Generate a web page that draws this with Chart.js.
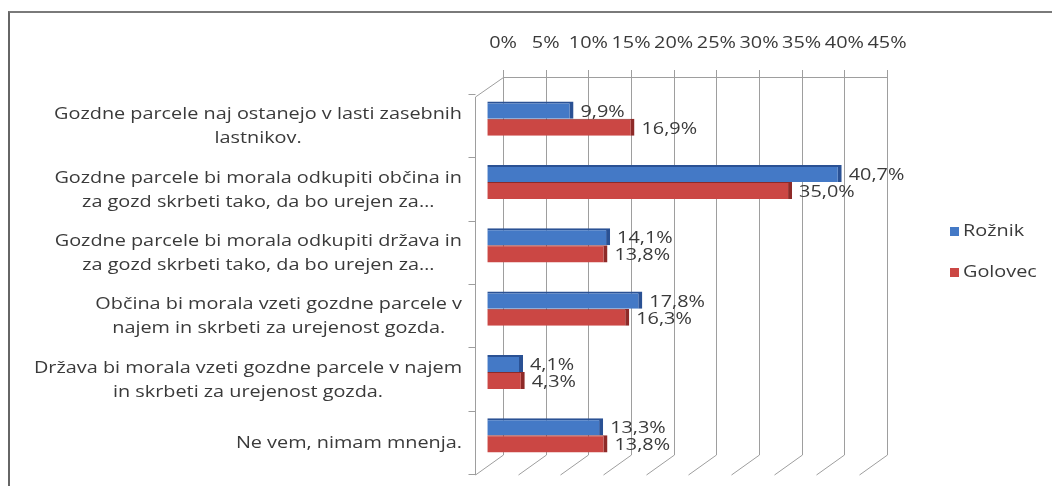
<!DOCTYPE html>
<html>
<head>
<meta charset="utf-8">
<script src="https://cdn.jsdelivr.net/npm/chart.js@4.4.0/dist/chart.umd.min.js"></script>
<style>
body{margin:0;background:#fff;}
#wrap{position:relative;width:1052px;height:486px;overflow:hidden;background:#fff;}
#frame{position:absolute;left:8px;top:11px;width:1100px;height:600px;border-top:2px solid #7a7a7a;border-left:2px solid #666;pointer-events:none;}
</style>
</head>
<body>
<div id="wrap"><canvas id="graf" width="1052" height="486"></canvas><div id="frame"></div></div>
<script>
// odgovori (vsaka vrstica je svoja vrstica oznake)
var kategorije = [
	['Gozdne parcele naj ostanejo v lasti zasebnih', 'lastnikov.'],
	['Gozdne parcele bi morala odkupiti občina in', 'za gozd skrbeti tako, da bo urejen za…'],
	['Gozdne parcele bi morala odkupiti država in', 'za gozd skrbeti tako, da bo urejen za…'],
	['Občina bi morala vzeti gozdne parcele v', 'najem in skrbeti za urejenost gozda.'],
	['Država bi morala vzeti gozdne parcele v najem', 'in skrbeti za urejenost gozda.'],
	['Ne vem, nimam mnenja.']
];
var roznik = [9.9, 40.7, 14.1, 17.8, 4.1, 13.3];
var golovec = [16.9, 35.0, 13.8, 16.3, 4.3, 13.8];
var oznakeX = ['0%', '5%', '10%', '15%', '20%', '25%', '30%', '35%', '40%', '45%'];

var pisava = '16px "Open Sans"';
var barvaTeksta = '#3a3a3a';
var razteg = 1.24; // besedilo v originalu je sirse

function odstotek(v) {
	return v.toFixed(1).replace('.', ',') + '%';
}

function napisi(ctx, t, x, y) {
	ctx.save();
	ctx.translate(x, y);
	ctx.scale(razteg, 1);
	ctx.fillText(t, 0, 0);
	ctx.restore();
}

// 3D okvir: zadnja stena z mrezo, tla in leva stena
var okvir = {
	id: 'okvir',
	beforeDatasetsDraw: function(chart) {
		var ctx = chart.ctx;
		var x = chart.scales.x;
		var y = chart.scales.y;
		var vrh = 77, dno = 455, dx = -28, dy = 20;
		ctx.save();
		ctx.strokeStyle = '#9e9e9e';
		ctx.lineWidth = 1;
		for (var v = 0; v <= 45; v += 5) {
			var px = Math.round(x.getPixelForValue(v)) + 0.5;
			ctx.beginPath();
			ctx.moveTo(px, vrh - 7);
			ctx.lineTo(px, dno);
			ctx.lineTo(px + dx, dno + dy);
			ctx.stroke();
		}
		var x0 = Math.round(x.getPixelForValue(0)) + 0.5;
		var x45 = Math.round(x.getPixelForValue(45)) + 0.5;
		ctx.beginPath();
		ctx.moveTo(x45, vrh + 0.5);
		ctx.lineTo(x0, vrh + 0.5);
		ctx.lineTo(x0 + dx, vrh + dy);
		ctx.lineTo(x0 + dx, dno + dy);
		ctx.stroke();
		// oznake kategorij na levi
		var n = chart.data.labels.length;
		for (var i = 0; i <= n; i++) {
			var yb = y.top + i * (y.height / n) + 7;
			yb = Math.round(yb) + 0.5;
			ctx.beginPath();
			ctx.moveTo(x0 + dx - 7, yb);
			ctx.lineTo(x0 + dx, yb);
			ctx.stroke();
		}
		// oznake osi x
		ctx.font = pisava;
		ctx.fillStyle = barvaTeksta;
		ctx.textAlign = 'center';
		ctx.textBaseline = 'middle';
		x.ticks.forEach(function(t, i) {
			napisi(ctx, oznakeX[i], x.getPixelForValue(t.value), chart.chartArea.top - 44);
		});
		ctx.restore();
	},
	afterDatasetsDraw: function(chart) {
		var ctx = chart.ctx;
		ctx.save();
		ctx.font = pisava;
		ctx.fillStyle = barvaTeksta;
		ctx.textAlign = 'left';
		ctx.textBaseline = 'middle';
		chart.data.datasets.forEach(function(ds, di) {
			var meta = chart.getDatasetMeta(di);
			meta.data.forEach(function(bar, i) {
				napisi(ctx, odstotek(ds.data[i]), bar.x + 7, bar.y + 2);
			});
		});
		ctx.restore();
	},
	afterDraw: function(chart) {
		var ctx = chart.ctx;
		var y = chart.scales.y;
		ctx.save();
		ctx.font = pisava;
		ctx.fillStyle = barvaTeksta;
		ctx.textAlign = 'center';
		ctx.textBaseline = 'middle';
		// oznake kategorij: blok poravnan desno, vrstice na sredini
		chart.data.labels.forEach(function(lab, i) {
			var vrstice = [].concat(lab);
			var sirina = 0;
			vrstice.forEach(function(t) { sirina = Math.max(sirina, ctx.measureText(t).width * razteg); });
			var cx = 462 - sirina / 2;
			var yc = y.getPixelForValue(i) + 8;
			vrstice.forEach(function(t, j) {
				napisi(ctx, t, cx, yc + (j - (vrstice.length - 1) / 2) * 24);
			});
		});
		// legenda
		ctx.textAlign = 'left';
		chart.data.datasets.forEach(function(ds, di) {
			var ly = 231 + di * 41;
			ctx.fillStyle = ds.backgroundColor;
			ctx.fillRect(950, ly - 4, 9, 9);
			ctx.fillStyle = barvaTeksta;
			napisi(ctx, ds.label, 963, ly);
		});
		ctx.restore();
	}
};

var ctx = document.getElementById('graf');

var graf = new Chart(ctx, {
	type: 'bar',
	data: {
		labels: kategorije,
		datasets: [
			{
				label: 'Rožnik',
				data: roznik,
				xAxisID: 'x2',
				backgroundColor: '#4479c6',
				borderColor: '#2a5194',
				borderWidth: {top: 2, right: 4, bottom: 0, left: 0},
				borderSkipped: false,
				clip: false
			},
			{
				label: 'Golovec',
				data: golovec,
				xAxisID: 'x2',
				backgroundColor: '#cb4744',
				borderColor: '#8e2a28',
				borderWidth: {top: 1, right: 4, bottom: 0, left: 0},
				borderSkipped: false,
				clip: false
			}
		]
	},
	options: {
		indexAxis: 'y',
		responsive: false,
		animation: false,
		categoryPercentage: 0.54,
		barPercentage: 1,
		layout: {padding: {left: 0, right: 165, top: 20, bottom: 19}},
		plugins: {
			legend: {display: false},
			tooltip: {enabled: false}
		},
		scales: {
			x: {
				position: 'top',
				min: 0,
				max: 45,
				grid: {display: false},
				border: {display: false},
				ticks: {stepSize: 5, autoSkip: false, display: false},
				afterFit: function(s) { s.height = 67; }
			},
			x2: {
				type: 'linear',
				position: 'top',
				display: false,
				min: 1.8,
				max: 45.9
			},
			y: {
				grid: {display: false},
				border: {display: false},
				ticks: {display: false},
				afterFit: function(s) { s.width = 503; }
			}
		}
	},
	plugins: [okvir]
});
</script>
</body>
</html>
